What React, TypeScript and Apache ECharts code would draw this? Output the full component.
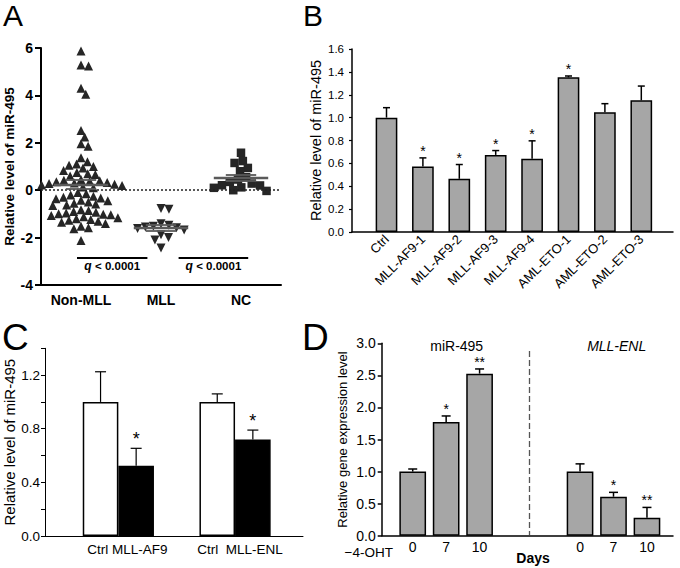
import React, { useEffect, useRef } from "react";
import * as echarts from "echarts";

const FONT = "'Liberation Sans', Arial, Helvetica, sans-serif";

// ---------- Panel A: scatter (relative level of miR-495) ----------
const aGroups = ["Non-MLL", "MLL", "NC"];
const aNonMll = [
  5.87, 5.28, 5.24, 4.3, 4.05, 2.52, 2.24, 1.96, 1.85, 1.37,
  1.2, 1.11, 1.05, 1.0, 0.94,
  0.83, 0.75, 0.69, 0.66, 0.6,
  0.45, 0.42, 0.4, 0.38, 0.36, 0.33, 0.3, 0.28, 0.25, 0.22, 0.2, 0.17, 0.14, 0.1,
  -0.1, -0.15, -0.2, -0.25, -0.3, -0.33, -0.36,
  -0.42, -0.45, -0.5, -0.55, -0.58, -0.62, -0.65,
  -0.82, -0.86, -0.9, -0.93, -0.96, -0.99, -1.02, -1.04, -1.07,
  -1.12, -1.16, -1.2, -1.24, -1.27, -1.31, -1.35, -1.4,
  -1.52, -1.58, -1.63,
  -2.12,
];
const aMll = [-0.77, -0.8, -1.42, -1.48, -1.52, -1.55, -1.58, -1.62, -1.68, -1.88, -2.0, -2.1, -2.44];
const aNc = [1.58, 1.23, 1.15, 0.94, 0.8, 0.55, 0.45, 0.35, 0.28, 0.21, 0.2, 0.12, 0.1, 0.0, -0.03];
const aYTicks = { min: -4, max: 6, interval: 2 };
const aQText = "< 0.0001";
const aQBrackets = [
  [-0.05, 0.83],
  [1.22, 2.09],
];
const aQLevel = -2.83;

// ---------- Panel B ----------
const bCats = ["Ctrl", "MLL-AF9-1", "MLL-AF9-2", "MLL-AF9-3", "MLL-AF9-4", "AML-ETO-1", "AML-ETO-2", "AML-ETO-3"];
const bVals = [1.0, 0.573, 0.465, 0.674, 0.64, 1.352, 1.047, 1.151];
const bErr = [0.087, 0.075, 0.125, 0.038, 0.157, 0.012, 0.075, 0.125];
const bStars = ["", "*", "*", "*", "*", "*", "", ""];
const bYTicks = { min: 0, max: 1.6, interval: 0.2 };

// ---------- Panel C ----------
const cGroups = ["MLL-AF9", "MLL-ENL"];
const cCtrlName = "Ctrl";
const cCtrl = [1.0, 1.0];
const cCtrlErr = [0.225, 0.06];
const cFusion = [0.524, 0.72];
const cFusionErr = [0.13, 0.07];
const cCtrlStars = ["", ""];
const cFusionStars = ["*", "*"];
const cYTicks = { min: 0, max: 1.4, interval: 0.2 };

// ---------- Panel D ----------
const dDays = ["0", "7", "10"];
const dMir = [1.0, 1.773, 2.527];
const dMirErr = [0.04, 0.094, 0.073];
const dMirStars = ["", "*", "**"];
const dEnl = [1.0, 0.608, 0.281];
const dEnlErr = [0.12, 0.068, 0.16];
const dEnlStars = ["", "*", "**"];
const dYTicks = { min: 0, max: 3, interval: 0.5 };

// ---------- layout ----------
const A_GRID = { left: 41, top: 48, width: 240, height: 237 };
const A_XPX = A_GRID.width / 3;
const A_YPX = A_GRID.height / (aYTicks.max - aYTicks.min);

function swarm(vals: number[], d: number): number[] {
  const placed: { x: number; y: number }[] = [];
  const order = vals.map((_, i) => i).sort((a, b) => vals[b] - vals[a]);
  const out = new Array(vals.length).fill(0);
  for (const i of order) {
    const y = vals[i] * A_YPX;
    const near = placed.filter((p) => Math.abs(p.y - y) < d);
    const cands = [0];
    for (const p of near) {
      const dx = Math.sqrt(d * d - (p.y - y) ** 2);
      cands.push(p.x + dx, p.x - dx);
    }
    cands.sort((a, b) => Math.abs(a) - Math.abs(b));
    let best = 0;
    for (const c of cands) {
      if (near.every((p) => (p.x - c) ** 2 + (p.y - y) ** 2 >= d * d - 1e-6)) {
        best = c;
        break;
      }
    }
    placed.push({ x: best, y });
    out[i] = best / A_XPX;
  }
  return out;
}

function stats(v: number[]) {
  const n = v.length;
  const m = v.reduce((s, x) => s + x, 0) / n;
  const sd = Math.sqrt(v.reduce((s, x) => s + (x - m) ** 2, 0) / (n - 1));
  return { m, sem: sd / Math.sqrt(n) };
}

function errSeries(
  xIdx: number,
  yIdx: number,
  vals: number[],
  errs: number[],
  stars: string[],
  offsetPx: number,
  capW: number,
  starSize: number,
  starGap: number,
  lw: number
) {
  return {
    type: "custom",
    xAxisIndex: xIdx,
    yAxisIndex: yIdx,
    silent: true,
    z: 5,
    data: vals.map((v, i) => [i, v, errs[i]]),
    renderItem: (params: any, api: any) => {
      const i = api.value(0);
      const v = api.value(1);
      const e = api.value(2);
      const base = api.coord([i, v]);
      const top = api.coord([i, v + e]);
      const x = base[0] + offsetPx;
      const children: any[] = [
        { type: "line", shape: { x1: x, y1: base[1], x2: x, y2: top[1] }, style: { stroke: "#000", lineWidth: lw } },
        { type: "line", shape: { x1: x - capW / 2, y1: top[1], x2: x + capW / 2, y2: top[1] }, style: { stroke: "#000", lineWidth: lw } },
      ];
      const s = stars[params.dataIndex];
      if (s) {
        children.push({
          type: "text",
          style: {
            text: s,
            x,
            y: top[1] - starGap,
            align: "center",
            verticalAlign: "middle",
            fontSize: starSize,
            fontFamily: FONT,
            fill: "#000",
          },
        });
      }
      return { type: "group", children };
    },
  };
}

function frameX(grid: number, lw: number) {
  return {
    type: "value",
    gridIndex: grid,
    min: 0,
    max: 1,
    axisLine: { show: true, onZero: false, lineStyle: { color: "#000", width: lw } },
    axisTick: { show: false },
    axisLabel: { show: false },
    splitLine: { show: false },
  };
}
function hiddenY(grid: number, t: { min: number; max: number }) {
  return { type: "value", gridIndex: grid, min: t.min, max: t.max, show: false, splitLine: { show: false } };
}

function buildOption(): any {
  const offNon = swarm(aNonMll, 7.6);
  const offMll = swarm(aMll, 8);
  const offNc = swarm(aNc, 8.5);
  const groupsVals = [aNonMll, aMll, aNc];

  const meanLines: any[] = [];
  groupsVals.forEach((v, g) => {
    const { m, sem } = stats(v);
    meanLines.push({ coords: [[g - 0.34, m], [g + 0.34, m]], lineStyle: { width: 2.4 } });
    meanLines.push({ coords: [[g - 0.19, m + sem], [g + 0.19, m + sem]], lineStyle: { width: 1.8 } });
    meanLines.push({ coords: [[g - 0.19, m - sem], [g + 0.19, m - sem]], lineStyle: { width: 1.8 } });
  });

  const mlData: any[] = [
    { yAxis: 0, lineStyle: { type: [2, 2], color: "#222", width: 1.5 }, label: { show: false } },
  ];
  aQBrackets.forEach(([x1, x2]) => {
    mlData.push([
      {
        coord: [x1, aQLevel],
        lineStyle: { color: "#000", width: 2, type: "solid" },
        label: {
          show: true,
          position: "insideMiddleBottom",
          distance: 3,
          formatter: "{q|q} {t|" + aQText + "}",
          rich: {
            q: { fontSize: 12, fontWeight: "bold", fontStyle: "italic", fontFamily: FONT, color: "#000" },
            t: { fontSize: 11.5, fontWeight: "bold", fontFamily: FONT, color: "#000" },
          },
        },
      },
      { coord: [x2, aQLevel] },
    ]);
  });

  const scatterBase = {
    type: "scatter",
    xAxisIndex: 1,
    yAxisIndex: 0,
    itemStyle: { color: "#262626", opacity: 1 },
    silent: true,
  };

  const labelStyle = { color: "#000", fontFamily: FONT };

  return {
    animation: false,
    textStyle: { fontFamily: FONT },
    grid: [
      { ...A_GRID },
      { left: 352, top: 49, width: 321, height: 183 },
      { left: 368.3, top: 49, width: 291.2, height: 183 },
      { left: 45, top: 348.3, width: 258, height: 187.7 },
      { left: 60, top: 348.3, width: 233.4, height: 187.7 },
      { left: 381.7, top: 343.3, width: 291.3, height: 192.4 },
      { left: 396, top: 343.3, width: 100.3, height: 192.4 },
      { left: 563.3, top: 343.3, width: 100.4, height: 192.4 },
    ],
    xAxis: [
      {
        type: "category",
        gridIndex: 0,
        data: aGroups,
        axisLine: { onZero: false, lineStyle: { color: "#000", width: 2 } },
        axisTick: { alignWithLabel: true, length: 6, lineStyle: { color: "#000", width: 2 } },
        axisLabel: { ...labelStyle, fontSize: 14, fontWeight: "bold", margin: 8 },
      },
      { type: "value", gridIndex: 0, min: -0.5, max: 2.5, show: false, splitLine: { show: false } },
      frameX(1, 1.5),
      {
        type: "category",
        gridIndex: 2,
        data: bCats,
        axisLine: { show: false },
        axisTick: { show: false },
        axisLabel: { ...labelStyle, fontSize: 13, rotate: 45, interval: 0, margin: 5 },
      },
      frameX(3, 1),
      {
        type: "category",
        gridIndex: 4,
        data: cGroups,
        axisLine: { show: false },
        axisTick: { show: false },
        axisLabel: {
          ...labelStyle,
          fontSize: 13.5,
          margin: 6,
          interval: 0,
          hideOverlap: false,
          formatter: (v: string, i: number) => (i === 0 ? `{a|${cCtrlName} ${v}}` : `{b|${cCtrlName}  ${v}}`),
          rich: {
            a: { fontSize: 13.5, fontFamily: FONT, color: "#000", padding: [0, 0, 0, 18] },
            b: { fontSize: 13.5, fontFamily: FONT, color: "#000", padding: [0, 0, 0, 10] },
          },
        },
      },
      frameX(5, 1.5),
      {
        type: "category",
        gridIndex: 6,
        data: dDays,
        axisLine: { show: false },
        axisTick: { show: false },
        axisLabel: { ...labelStyle, fontSize: 14, margin: 4, interval: 0 },
      },
      {
        type: "category",
        gridIndex: 7,
        data: dDays,
        axisLine: { show: false },
        axisTick: { show: false },
        axisLabel: { ...labelStyle, fontSize: 14, margin: 4, interval: 0 },
      },
    ],
    yAxis: [
      {
        type: "value",
        gridIndex: 0,
        ...aYTicks,
        name: "Relative level of miR-495",
        nameLocation: "middle",
        nameGap: 22,
        nameTextStyle: { ...labelStyle, fontSize: 13.5, fontWeight: "bold" },
        axisLine: { show: true, onZero: false, lineStyle: { color: "#000", width: 2 } },
        axisTick: { show: true, length: 6, lineStyle: { color: "#000", width: 2 } },
        axisLabel: { ...labelStyle, fontSize: 14, fontWeight: "bold", margin: 8 },
        splitLine: { show: false },
      },
      {
        type: "value",
        gridIndex: 1,
        ...bYTicks,
        name: "Relative level of miR-495",
        nameLocation: "middle",
        nameGap: 29,
        nameTextStyle: { ...labelStyle, fontSize: 14.5 },
        axisLine: { show: true, onZero: false, lineStyle: { color: "#000", width: 1.5 } },
        axisTick: { show: true, length: 3, lineStyle: { color: "#000", width: 1.2 } },
        axisLabel: { ...labelStyle, fontSize: 11.5, margin: 8, formatter: (v: number) => v.toFixed(1) },
        splitLine: { show: false },
      },
      hiddenY(2, bYTicks),
      {
        type: "value",
        gridIndex: 3,
        ...cYTicks,
        name: "Relative level of miR-495",
        nameLocation: "middle",
        nameGap: 20,
        nameTextStyle: { ...labelStyle, fontSize: 15 },
        axisLine: { show: true, onZero: false, lineStyle: { color: "#000", width: 1 } },
        axisTick: { show: true, length: 4, lineStyle: { color: "#000", width: 1 } },
        axisLabel: {
          ...labelStyle,
          fontSize: 13.5,
          margin: 5,
          formatter: (v: number) => (Math.round(v * 10) % 4 === 0 ? v.toFixed(1) : ""),
        },
        splitLine: { show: false },
      },
      hiddenY(4, cYTicks),
      {
        type: "value",
        gridIndex: 5,
        ...dYTicks,
        name: "Relative gene expression level",
        nameLocation: "middle",
        nameGap: 33,
        nameTextStyle: { ...labelStyle, fontSize: 13 },
        axisLine: { show: true, onZero: false, lineStyle: { color: "#000", width: 1.5 } },
        axisTick: { show: true, length: 4, lineStyle: { color: "#000", width: 1.5 } },
        axisLabel: { ...labelStyle, fontSize: 14, margin: 6, formatter: (v: number) => v.toFixed(1) },
        splitLine: { show: false },
      },
      hiddenY(6, dYTicks),
      hiddenY(7, dYTicks),
    ],
    series: [
      {
        ...scatterBase,
        symbol: "triangle",
        symbolSize: 9,
        data: aNonMll.map((v, i) => [0 + offNon[i], v]),
        markLine: { silent: true, symbol: ["none", "none"], animation: false, data: mlData },
      },
      { ...scatterBase, symbol: "triangle", symbolRotate: 180, symbolSize: 9, data: aMll.map((v, i) => [1 + offMll[i], v]) },
      { ...scatterBase, symbol: "rect", symbolSize: 8.5, data: aNc.map((v, i) => [2 + offNc[i], v]) },
      {
        type: "lines",
        coordinateSystem: "cartesian2d",
        xAxisIndex: 1,
        yAxisIndex: 0,
        silent: true,
        z: 10,
        lineStyle: { color: "#5a5a5a", opacity: 1 },
        data: meanLines,
      },
      // B
      {
        type: "bar",
        xAxisIndex: 3,
        yAxisIndex: 2,
        data: bVals,
        barWidth: 21.7,
        silent: true,
        itemStyle: { color: "#a6a6a6", borderColor: "#000", borderWidth: 1.5 },
      },
      errSeries(3, 2, bVals, bErr, bStars, 0, 7, 14, 7, 1.5),
      // C
      {
        type: "bar",
        xAxisIndex: 5,
        yAxisIndex: 4,
        data: cCtrl,
        barWidth: 35.6,
        barGap: "0%",
        silent: true,
        itemStyle: { color: "#fff", borderColor: "#000", borderWidth: 1.5 },
      },
      {
        type: "bar",
        xAxisIndex: 5,
        yAxisIndex: 4,
        data: cFusion,
        barWidth: 35.6,
        barGap: "0%",
        silent: true,
        itemStyle: { color: "#000", borderColor: "#000", borderWidth: 1.5 },
      },
      errSeries(5, 4, cCtrl, cCtrlErr, cCtrlStars, -17.8, 11, 18, 9, 1.2),
      errSeries(5, 4, cFusion, cFusionErr, cFusionStars, 17.8, 11, 18, 9, 1.2),
      // D
      {
        type: "bar",
        xAxisIndex: 7,
        yAxisIndex: 6,
        data: dMir,
        barWidth: 26.7,
        silent: true,
        itemStyle: { color: "#a6a6a6", borderColor: "#000", borderWidth: 1.5 },
      },
      errSeries(7, 6, dMir, dMirErr, dMirStars, 0, 9, 14, 7, 1.5),
      {
        type: "bar",
        xAxisIndex: 8,
        yAxisIndex: 7,
        data: dEnl,
        barWidth: 26.7,
        silent: true,
        itemStyle: { color: "#a6a6a6", borderColor: "#000", borderWidth: 1.5 },
      },
      errSeries(8, 7, dEnl, dEnlErr, dEnlStars, 0, 9, 14, 7, 1.5),
    ],
    graphic: [
      { type: "text", x: 3, y: 15, style: { text: "A", fontSize: 30, fontFamily: FONT, fill: "#000", verticalAlign: "middle" } },
      { type: "text", x: 303, y: 15, style: { text: "B", fontSize: 30, fontFamily: FONT, fill: "#000", verticalAlign: "middle" } },
      { type: "text", x: 2, y: 337, style: { text: "C", fontSize: 37, fontFamily: FONT, fill: "#000", verticalAlign: "middle" } },
      { type: "text", x: 302, y: 337, style: { text: "D", fontSize: 37, fontFamily: FONT, fill: "#000", verticalAlign: "middle" } },
      { type: "text", x: 456.7, y: 346, style: { text: "miR-495", fontSize: 14, fontFamily: FONT, fill: "#000", align: "center", verticalAlign: "middle" } },
      { type: "text", x: 616.7, y: 346, style: { text: "MLL-ENL", fontSize: 14, fontStyle: "italic", fontFamily: FONT, fill: "#000", align: "center", verticalAlign: "middle" } },
      { type: "text", x: 393, y: 552, style: { text: "\u22124-OHT", fontSize: 13.5, fontFamily: FONT, fill: "#000", align: "right", verticalAlign: "middle" } },
      { type: "text", x: 533, y: 558, style: { text: "Days", fontSize: 14, fontWeight: "bold", fontFamily: FONT, fill: "#000", align: "center", verticalAlign: "middle" } },
      {
        type: "line",
        shape: { x1: 529.5, y1: 351, x2: 529.5, y2: 535 },
        style: { stroke: "#555", lineWidth: 1.3, lineDash: [6, 3] },
      },
    ],
  };
}

export default function App() {
  const ref = useRef<HTMLDivElement>(null);
  useEffect(() => {
    document.body.style.margin = "0";
    const chart = echarts.init(ref.current!, null, { renderer: "svg" });
    chart.setOption(buildOption());
    return () => chart.dispose();
  }, []);
  return <div ref={ref} style={{ width: 680, height: 568 }} />;
}
